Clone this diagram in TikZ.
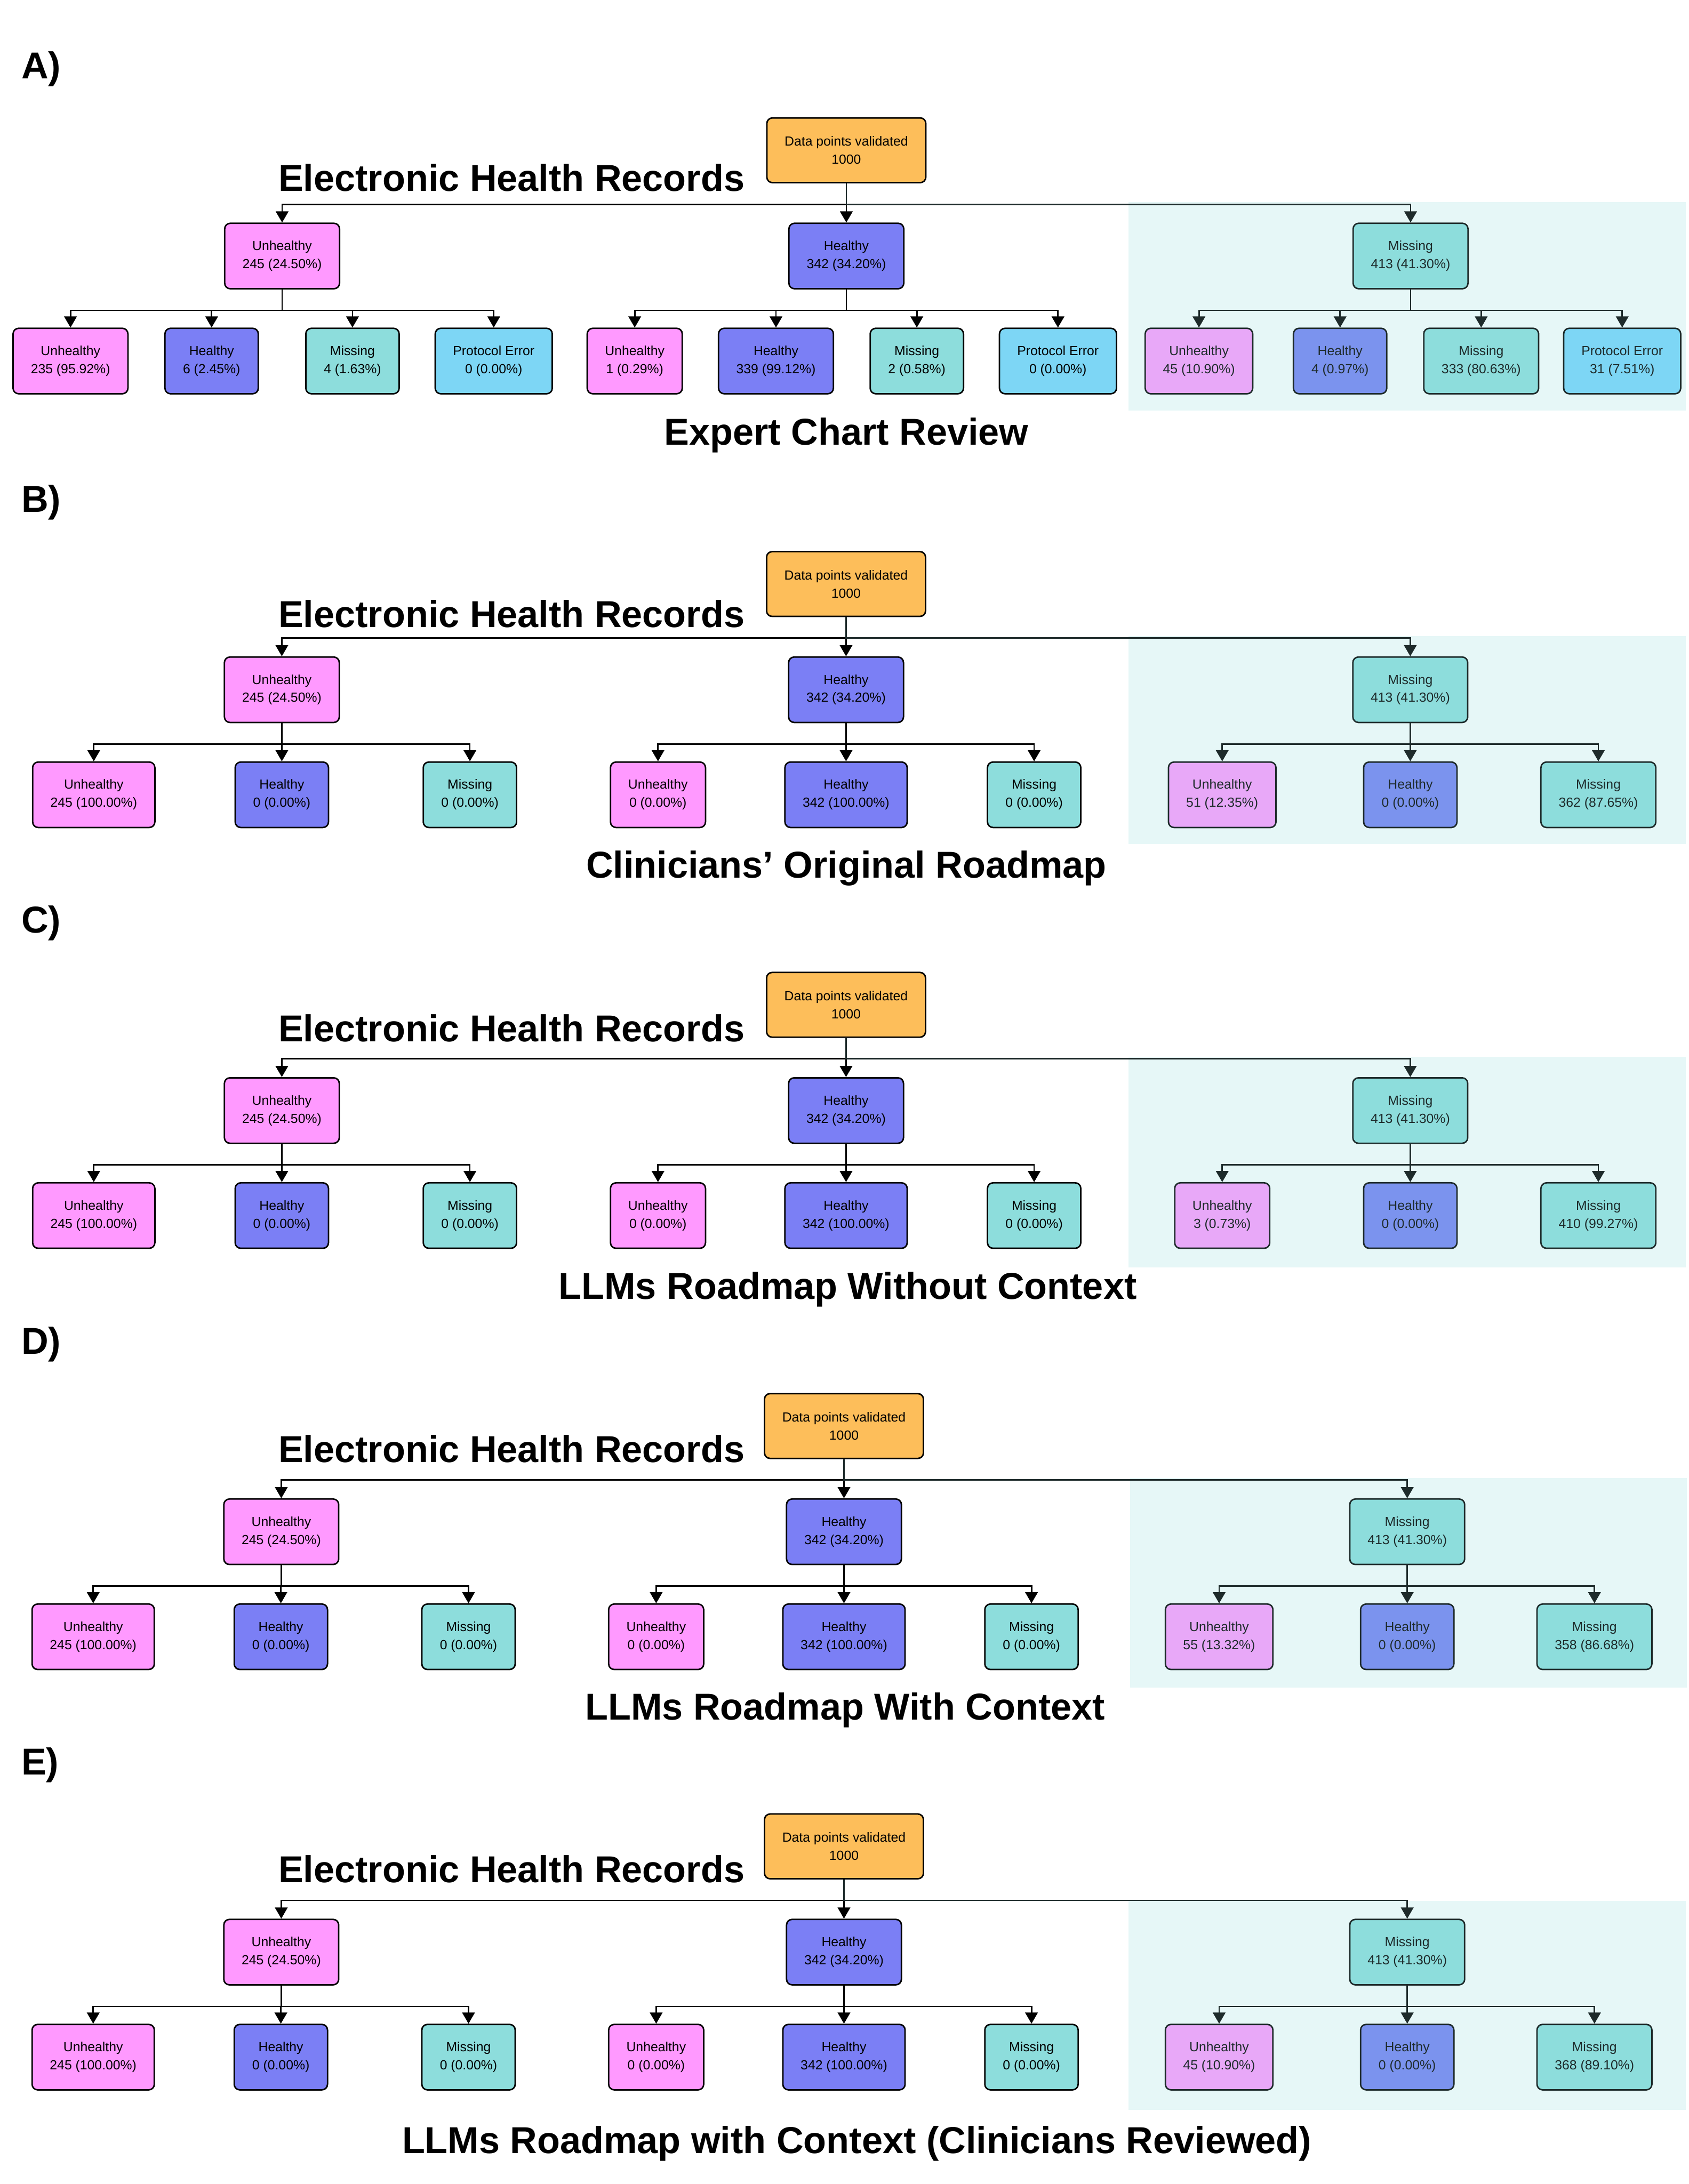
\documentclass[tikz,border=0pt]{standalone}
\usepackage{fontspec}
\usepackage{xcolor}
\setmainfont{Liberation Sans}
\usetikzlibrary{arrows.meta}

\definecolor{rootc}{HTML}{FDBE5A}
\definecolor{unhc}{HTML}{FF99FF}
\definecolor{heac}{HTML}{7B7FF5}
\definecolor{misc}{HTML}{8DDDDC}
\definecolor{perc}{HTML}{7DD6F5}
\definecolor{unhsc}{HTML}{E8A8F8}
\definecolor{heasc}{HTML}{7B93EE}
\definecolor{shadebg}{HTML}{E6F7F7}
\definecolor{shadeline}{HTML}{1E2B2B}

\begin{document}
\begin{tikzpicture}[
    x=0.02cm, y=-0.02cm,
    box/.style={rectangle, rounded corners=0.08cm, draw=black, line width=0.6pt, align=center, minimum width=1.34cm, minimum height=0.94cm, inner xsep=0.255cm, inner ysep=0pt, font=\fontsize{5.4}{7.4}\selectfont},
    rootbox/.style={box, fill=rootc, minimum height=0.93cm},
    unh/.style={box, fill=unhc},
    hea/.style={box, fill=heac},
    mis/.style={box, fill=misc},
    perr/.style={box, fill=perc},
    unhs/.style={box, fill=unhsc, draw=shadeline, text=shadeline},
    heas/.style={box, fill=heasc, draw=shadeline, text=shadeline},
    miss/.style={box, fill=misc, draw=shadeline, text=shadeline},
    perrs/.style={box, fill=perc, draw=shadeline, text=shadeline},
    panellabel/.style={anchor=base west, inner sep=0pt, font=\fontsize{15.3}{18}\selectfont\bfseries},
    srctitle/.style={anchor=base west, inner sep=0pt, font=\fontsize{15.3}{18}\selectfont\bfseries},
    roadtitle/.style={anchor=base, inner sep=0pt, font=\fontsize{15.3}{18}\selectfont\bfseries},
    arrow/.style={-{Triangle[length=0.16cm,width=0.18cm]}, line width=0.6pt},
    arrowdark/.style={arrow, draw=shadeline}
]
\useasboundingbox (0,0) rectangle (1212,1568);

% A) Expert Chart Review
\begin{scope}[shift={(0,84.6)}]
\fill[shadebg] (810,60.5) rectangle (1210,210);
\node [panellabel] (alab) at (15,-28.2) {A)};
\node [rootbox] (aroot) at (607.5,23.3) {Data points validated\\1000};
\node [srctitle] (asrc) at (199.5,52.8) {Electronic Health Records};
\node [unh] (au) at (202.5,99.2) {Unhealthy\\245 (24.50\%)};
\node [hea] (ah) at (607.5,99.2) {Healthy\\342 (34.20\%)};
\node [miss] (am) at (1012.5,99.2) {Missing\\413 (41.30\%)};
\node [unh] (auu) at (50.6,174.6) {Unhealthy\\235 (95.92\%)};
\node [hea] (auh) at (151.9,174.6) {Healthy\\6 (2.45\%)};
\node [mis] (aum) at (253,174.6) {Missing\\4 (1.63\%)};
\node [perr] (aup) at (354.4,174.6) {Protocol Error\\0 (0.00\%)};
\node [unh] (ahu) at (455.6,174.6) {Unhealthy\\1 (0.29\%)};
\node [hea] (ahh) at (557,174.6) {Healthy\\339 (99.12\%)};
\node [mis] (ahm) at (658.1,174.6) {Missing\\2 (0.58\%)};
\node [perr] (ahp) at (759.4,174.6) {Protocol Error\\0 (0.00\%)};
\node [unhs] (amu) at (860.6,174.6) {Unhealthy\\45 (10.90\%)};
\node [heas] (amh) at (961.9,174.6) {Healthy\\4 (0.97\%)};
\node [miss] (amm) at (1063.2,174.6) {Missing\\333 (80.63\%)};
\node [perrs] (amp) at (1164.4,174.6) {Protocol Error\\31 (7.51\%)};
\node [roadtitle] (atitle) at (607.5,234.7) {Expert Chart Review};
\draw [arrow] (aroot.south) -- ++(0,15) -| (au.north);
\draw [arrow] (aroot.south) -- ++(0,15) -| (ah.north);
\draw [arrowdark] (aroot.south) -- ++(0,15) -| (am.north);
\draw [arrow] (au.south) -- ++(0,15) -| (auu.north);
\draw [arrow] (au.south) -- ++(0,15) -| (auh.north);
\draw [arrow] (au.south) -- ++(0,15) -| (aum.north);
\draw [arrow] (au.south) -- ++(0,15) -| (aup.north);
\draw [arrow] (ah.south) -- ++(0,15) -| (ahu.north);
\draw [arrow] (ah.south) -- ++(0,15) -| (ahh.north);
\draw [arrow] (ah.south) -- ++(0,15) -| (ahm.north);
\draw [arrow] (ah.south) -- ++(0,15) -| (ahp.north);
\draw [arrowdark] (am.south) -- ++(0,15) -| (amu.north);
\draw [arrowdark] (am.south) -- ++(0,15) -| (amh.north);
\draw [arrowdark] (am.south) -- ++(0,15) -| (amm.north);
\draw [arrowdark] (am.south) -- ++(0,15) -| (amp.north);
\end{scope}

% B) Clinicians' Original Roadmap
\begin{scope}[shift={(0,396)}]
\fill[shadebg] (810,60.5) rectangle (1210,210);
\node [panellabel] (blab) at (15,-28.2) {B)};
\node [rootbox] (broot) at (607.3,23.3) {Data points validated\\1000};
\node [srctitle] (bsrc) at (199.5,54.2) {Electronic Health Records};
\node [unh] (bu) at (202.3,99.2) {Unhealthy\\245 (24.50\%)};
\node [hea] (bh) at (607.3,99.2) {Healthy\\342 (34.20\%)};
\node [miss] (bm) at (1012.3,99.2) {Missing\\413 (41.30\%)};
\node [unh] (buu) at (67.3,174.6) {Unhealthy\\245 (100.00\%)};
\node [hea] (buh) at (202.3,174.6) {Healthy\\0 (0.00\%)};
\node [mis] (bum) at (337.3,174.6) {Missing\\0 (0.00\%)};
\node [unh] (bhu) at (472.3,174.6) {Unhealthy\\0 (0.00\%)};
\node [hea] (bhh) at (607.3,174.6) {Healthy\\342 (100.00\%)};
\node [mis] (bhm) at (742.3,174.6) {Missing\\0 (0.00\%)};
\node [unhs] (bmu) at (877.3,174.6) {Unhealthy\\51 (12.35\%)};
\node [heas] (bmh) at (1012.3,174.6) {Healthy\\0 (0.00\%)};
\node [miss] (bmm) at (1147.3,174.6) {Missing\\362 (87.65\%)};
\node [roadtitle] (btitle) at (607.5,234.2) {Clinicians’ Original Roadmap};
\draw [arrow] (broot.south) -- ++(0,15) -| (bu.north);
\draw [arrow] (broot.south) -- ++(0,15) -| (bh.north);
\draw [arrowdark] (broot.south) -- ++(0,15) -| (bm.north);
\draw [arrow] (bu.south) -- ++(0,15) -| (buu.north);
\draw [arrow] (bu.south) -- ++(0,15) -| (buh.north);
\draw [arrow] (bu.south) -- ++(0,15) -| (bum.north);
\draw [arrow] (bh.south) -- ++(0,15) -| (bhu.north);
\draw [arrow] (bh.south) -- ++(0,15) -| (bhh.north);
\draw [arrow] (bh.south) -- ++(0,15) -| (bhm.north);
\draw [arrowdark] (bm.south) -- ++(0,15) -| (bmu.north);
\draw [arrowdark] (bm.south) -- ++(0,15) -| (bmh.north);
\draw [arrowdark] (bm.south) -- ++(0,15) -| (bmm.north);
\end{scope}

% C) LLMs Roadmap Without Context
\begin{scope}[shift={(0,698.1)}]
\fill[shadebg] (810,60.5) rectangle (1210,211.7);
\node [panellabel] (clab) at (15,-28.2) {C)};
\node [rootbox] (croot) at (607.3,23.3) {Data points validated\\1000};
\node [srctitle] (csrc) at (199.5,49.7) {Electronic Health Records};
\node [unh] (cu) at (202.3,99.2) {Unhealthy\\245 (24.50\%)};
\node [hea] (ch) at (607.3,99.2) {Healthy\\342 (34.20\%)};
\node [miss] (cm) at (1012.3,99.2) {Missing\\413 (41.30\%)};
\node [unh] (cuu) at (67.3,174.6) {Unhealthy\\245 (100.00\%)};
\node [hea] (cuh) at (202.3,174.6) {Healthy\\0 (0.00\%)};
\node [mis] (cum) at (337.3,174.6) {Missing\\0 (0.00\%)};
\node [unh] (chu) at (472.3,174.6) {Unhealthy\\0 (0.00\%)};
\node [hea] (chh) at (607.3,174.6) {Healthy\\342 (100.00\%)};
\node [mis] (chm) at (742.3,174.6) {Missing\\0 (0.00\%)};
\node [unhs] (cmu) at (877.3,174.6) {Unhealthy\\3 (0.73\%)};
\node [heas] (cmh) at (1012.3,174.6) {Healthy\\0 (0.00\%)};
\node [miss] (cmm) at (1147.3,174.6) {Missing\\410 (99.27\%)};
\node [roadtitle] (ctitle) at (608.5,234.7) {LLMs Roadmap Without Context};
\draw [arrow] (croot.south) -- ++(0,15) -| (cu.north);
\draw [arrow] (croot.south) -- ++(0,15) -| (ch.north);
\draw [arrowdark] (croot.south) -- ++(0,15) -| (cm.north);
\draw [arrow] (cu.south) -- ++(0,15) -| (cuu.north);
\draw [arrow] (cu.south) -- ++(0,15) -| (cuh.north);
\draw [arrow] (cu.south) -- ++(0,15) -| (cum.north);
\draw [arrow] (ch.south) -- ++(0,15) -| (chu.north);
\draw [arrow] (ch.south) -- ++(0,15) -| (chh.north);
\draw [arrow] (ch.south) -- ++(0,15) -| (chm.north);
\draw [arrowdark] (cm.south) -- ++(0,15) -| (cmu.north);
\draw [arrowdark] (cm.south) -- ++(0,15) -| (cmh.north);
\draw [arrowdark] (cm.south) -- ++(0,15) -| (cmm.north);
\end{scope}

% D) LLMs Roadmap With Context
\begin{scope}[shift={(0,1000.5)}]
\fill[shadebg] (811,60.5) rectangle (1211,211);
\node [panellabel] (dlab) at (15,-28.2) {D)};
\node [rootbox] (droot) at (605.8,23.3) {Data points validated\\1000};
\node [srctitle] (dsrc) at (199.5,49.4) {Electronic Health Records};
\node [unh] (du) at (201.9,99.2) {Unhealthy\\245 (24.50\%)};
\node [hea] (dh) at (605.8,99.2) {Healthy\\342 (34.20\%)};
\node [miss] (dm) at (1010.1,99.2) {Missing\\413 (41.30\%)};
\node [unh] (duu) at (66.9,174.6) {Unhealthy\\245 (100.00\%)};
\node [hea] (duh) at (201.6,174.6) {Healthy\\0 (0.00\%)};
\node [mis] (dum) at (336.3,174.6) {Missing\\0 (0.00\%)};
\node [unh] (dhu) at (471,174.6) {Unhealthy\\0 (0.00\%)};
\node [hea] (dhh) at (605.8,174.6) {Healthy\\342 (100.00\%)};
\node [mis] (dhm) at (740.4,174.6) {Missing\\0 (0.00\%)};
\node [unhs] (dmu) at (875.1,174.6) {Unhealthy\\55 (13.32\%)};
\node [heas] (dmh) at (1010.1,174.6) {Healthy\\0 (0.00\%)};
\node [miss] (dmm) at (1144.5,174.6) {Missing\\358 (86.68\%)};
\node [roadtitle] (dtitle) at (606.6,234.1) {LLMs Roadmap With Context};
\draw [arrow] (droot.south) -- ++(0,15) -| (du.north);
\draw [arrow] (droot.south) -- ++(0,15) -| (dh.north);
\draw [arrowdark] (droot.south) -- ++(0,15) -| (dm.north);
\draw [arrow] (du.south) -- ++(0,15) -| (duu.north);
\draw [arrow] (du.south) -- ++(0,15) -| (duh.north);
\draw [arrow] (du.south) -- ++(0,15) -| (dum.north);
\draw [arrow] (dh.south) -- ++(0,15) -| (dhu.north);
\draw [arrow] (dh.south) -- ++(0,15) -| (dhh.north);
\draw [arrow] (dh.south) -- ++(0,15) -| (dhm.north);
\draw [arrowdark] (dm.south) -- ++(0,15) -| (dmu.north);
\draw [arrowdark] (dm.south) -- ++(0,15) -| (dmh.north);
\draw [arrowdark] (dm.south) -- ++(0,15) -| (dmm.north);
\end{scope}

% E) LLMs Roadmap with Context (Clinicians Reviewed)
\begin{scope}[shift={(0,1302.3)}]
\fill[shadebg] (810,62.5) rectangle (1210,212.3);
\node [panellabel] (elab) at (15,-28.2) {E)};
\node [rootbox] (eroot) at (605.8,23.3) {Data points validated\\1000};
\node [srctitle] (esrc) at (199.5,49.2) {Electronic Health Records};
\node [unh] (eu) at (201.9,99.2) {Unhealthy\\245 (24.50\%)};
\node [hea] (eh) at (605.8,99.2) {Healthy\\342 (34.20\%)};
\node [miss] (em) at (1010.1,99.2) {Missing\\413 (41.30\%)};
\node [unh] (euu) at (66.9,174.6) {Unhealthy\\245 (100.00\%)};
\node [hea] (euh) at (201.6,174.6) {Healthy\\0 (0.00\%)};
\node [mis] (eum) at (336.3,174.6) {Missing\\0 (0.00\%)};
\node [unh] (ehu) at (471,174.6) {Unhealthy\\0 (0.00\%)};
\node [hea] (ehh) at (605.8,174.6) {Healthy\\342 (100.00\%)};
\node [mis] (ehm) at (740.4,174.6) {Missing\\0 (0.00\%)};
\node [unhs] (emu) at (875.1,174.6) {Unhealthy\\45 (10.90\%)};
\node [heas] (emh) at (1010.1,174.6) {Healthy\\0 (0.00\%)};
\node [miss] (emm) at (1144.5,174.6) {Missing\\368 (89.10\%)};
\node [roadtitle] (etitle) at (615,243.6) {LLMs Roadmap with Context (Clinicians Reviewed)};
\draw [arrow] (eroot.south) -- ++(0,15) -| (eu.north);
\draw [arrow] (eroot.south) -- ++(0,15) -| (eh.north);
\draw [arrowdark] (eroot.south) -- ++(0,15) -| (em.north);
\draw [arrow] (eu.south) -- ++(0,15) -| (euu.north);
\draw [arrow] (eu.south) -- ++(0,15) -| (euh.north);
\draw [arrow] (eu.south) -- ++(0,15) -| (eum.north);
\draw [arrow] (eh.south) -- ++(0,15) -| (ehu.north);
\draw [arrow] (eh.south) -- ++(0,15) -| (ehh.north);
\draw [arrow] (eh.south) -- ++(0,15) -| (ehm.north);
\draw [arrowdark] (em.south) -- ++(0,15) -| (emu.north);
\draw [arrowdark] (em.south) -- ++(0,15) -| (emh.north);
\draw [arrowdark] (em.south) -- ++(0,15) -| (emm.north);
\end{scope}

\end{tikzpicture}
\end{document}
